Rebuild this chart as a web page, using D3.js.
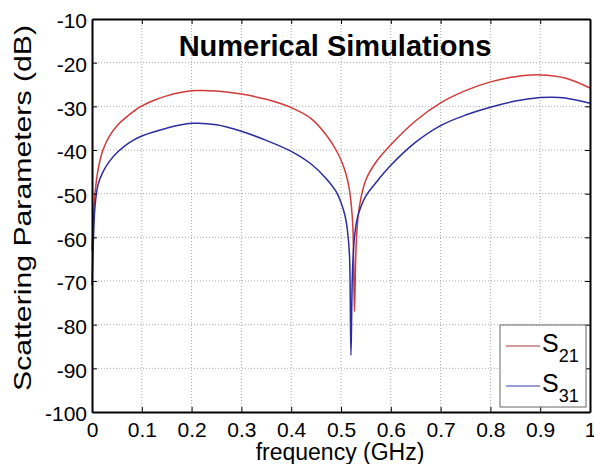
<!DOCTYPE html>
<html>
<head>
<meta charset="utf-8">
<script src="https://cdn.jsdelivr.net/npm/d3@7/dist/d3.min.js"></script>
<style>
  html, body { margin: 0; padding: 0; background: #fff; }
  svg { display: block; font-family: "Liberation Sans", Arial, sans-serif; }
  .grid line { stroke: #a8a8a8; stroke-width: 1; stroke-dasharray: 1,2; }
  .axis path, .axis line { stroke: #000; }
  .axis path { stroke-width: 2; }
  .axis text { font-size: 21px; fill: #000; }
</style>
</head>
<body>
<svg id="chart" width="594" height="464"></svg>
<script>
// S-parameter sweep (dB vs GHz).
const freqS21 = [0, 0.003, 0.006, 0.012, 0.022, 0.035, 0.052, 0.075, 0.097, 0.125, 0.15, 0.18, 0.21, 0.25, 0.3, 0.35, 0.4, 0.44, 0.47, 0.49, 0.5, 0.51, 0.516, 0.521, 0.524, 0.527, 0.53, 0.534, 0.54, 0.55, 0.57, 0.6, 0.65, 0.7, 0.75, 0.8, 0.85, 0.9, 0.95, 1.0];
const valS21  = [-63, -55, -50, -44.6, -40, -36.8, -34.2, -31.9, -30.1, -28.6, -27.6, -26.8, -26.4, -26.5, -27.2, -28.4, -30.3, -32.8, -36.5, -40, -42.3, -45.5, -48.5, -53, -58, -77, -63, -55.5, -51, -46.8, -42.8, -38.8, -33.3, -29.2, -26.4, -24.4, -23.2, -22.8, -23.5, -25.8];

const freqS31 = [0, 0.003, 0.006, 0.012, 0.022, 0.035, 0.052, 0.075, 0.1, 0.15, 0.2, 0.25, 0.3, 0.35, 0.4, 0.44, 0.47, 0.49, 0.5, 0.508, 0.513, 0.517, 0.52, 0.523, 0.527, 0.533, 0.54, 0.55, 0.575, 0.6, 0.65, 0.7, 0.75, 0.8, 0.85, 0.9, 0.925, 0.95, 1.0];
const valS31  = [-71, -60, -53, -48, -45, -42.6, -40.4, -38.3, -36.8, -35, -33.9, -34.2, -35.7, -37.8, -40.3, -43.2, -46.5, -49.5, -52, -55, -58.5, -64, -87, -68, -60, -55.5, -53, -50.5, -46.8, -43.5, -38.2, -34.4, -32, -30.2, -28.8, -28, -27.9, -28.1, -29.3];

const xTicks = [0, 0.1, 0.2, 0.3, 0.4, 0.5, 0.6, 0.7, 0.8, 0.9, 1];
const yTicks = [-100, -90, -80, -70, -60, -50, -40, -30, -20, -10];

const series = [
  { name: 'S', sub: '21', color: '#d23a3a', legendColor: '#c47a7a', f: freqS21, v: valS21 },
  { name: 'S', sub: '31', color: '#2c2ca0', legendColor: '#7a7ad0', f: freqS31, v: valS31 },
];

const L = 92, R = 590, T = 19, B = 412;
const svg = d3.select('#chart');

const x = d3.scaleLinear().domain([0, 1]).range([L, R]);
const y = d3.scaleLinear().domain([-100, -10]).range([B, T]);

// dotted grid
const grid = svg.append('g').attr('class', 'grid');
grid.selectAll('line.gx').data(xTicks.slice(1, -1)).enter().append('line')
  .attr('x1', d => x(d)).attr('x2', d => x(d)).attr('y1', T).attr('y2', B);
grid.selectAll('line.gy').data(yTicks.slice(1, -1)).enter().append('line')
  .attr('x1', L).attr('x2', R).attr('y1', d => y(d)).attr('y2', d => y(d));

// curves
const line = d3.line().curve(d3.curveCatmullRom.alpha(0.5));
series.forEach(s => {
  svg.append('path')
    .attr('fill', 'none')
    .attr('stroke', s.color)
    .attr('stroke-width', 1.5)
    .attr('d', line(s.f.map((f, i) => [x(f), y(s.v[i])])));
});

// box axes, ticks pointing inward (plain hyphen minus like the original)
const fmtX = d => String(+d.toFixed(1));
const fmtY = d => String(d);
svg.append('g').attr('class', 'axis').attr('transform', `translate(0,${B})`)
  .call(d3.axisBottom(x).tickValues(xTicks).tickSize(-5).tickSizeOuter(0).tickPadding(10).tickFormat(fmtX));
svg.append('g').attr('class', 'axis').attr('transform', `translate(0,${T})`)
  .call(d3.axisTop(x).tickValues(xTicks).tickSize(-5).tickSizeOuter(0).tickFormat(''));
svg.append('g').attr('class', 'axis').attr('transform', `translate(${L},0)`)
  .call(d3.axisLeft(y).tickValues(yTicks).tickSize(-5).tickSizeOuter(0).tickPadding(5).tickFormat(fmtY))
  .selectAll('text').attr('dy', '0.42em');
svg.append('g').attr('class', 'axis').attr('transform', `translate(${R},0)`)
  .call(d3.axisRight(y).tickValues(yTicks).tickSize(-5).tickSizeOuter(0).tickFormat(''));

// title
svg.append('text')
  .attr('x', 335).attr('y', 56)
  .attr('text-anchor', 'middle')
  .style('font-size', '29px').style('font-weight', 'bold')
  .text('Numerical Simulations');

// axis labels
svg.append('text')
  .attr('x', 340).attr('y', 460)
  .attr('text-anchor', 'middle')
  .style('font-size', '23px')
  .text('frequency (GHz)');
svg.append('text')
  .attr('transform', 'translate(31,208) rotate(-90)')
  .attr('text-anchor', 'middle')
  .attr('textLength', 366).attr('lengthAdjust', 'spacingAndGlyphs')
  .style('font-size', '24px')
  .text('Scattering Parameters (dB)');

// legend
const lg = svg.append('g');
lg.append('rect')
  .attr('x', 500).attr('y', 325).attr('width', 86).attr('height', 82)
  .attr('fill', '#fff').attr('stroke', '#666').attr('stroke-width', 1);
series.forEach((s, i) => {
  const cy = 346 + i * 40;
  lg.append('line')
    .attr('x1', 506).attr('x2', 540).attr('y1', cy).attr('y2', cy)
    .attr('stroke', s.legendColor).attr('stroke-width', 1.5);
  const t = lg.append('text').attr('x', 542).attr('y', cy + 6).style('font-size', '25px');
  t.append('tspan').text(s.name);
  t.append('tspan').attr('dy', 10).style('font-size', '18px').text(s.sub);
});
</script>
</body>
</html>
